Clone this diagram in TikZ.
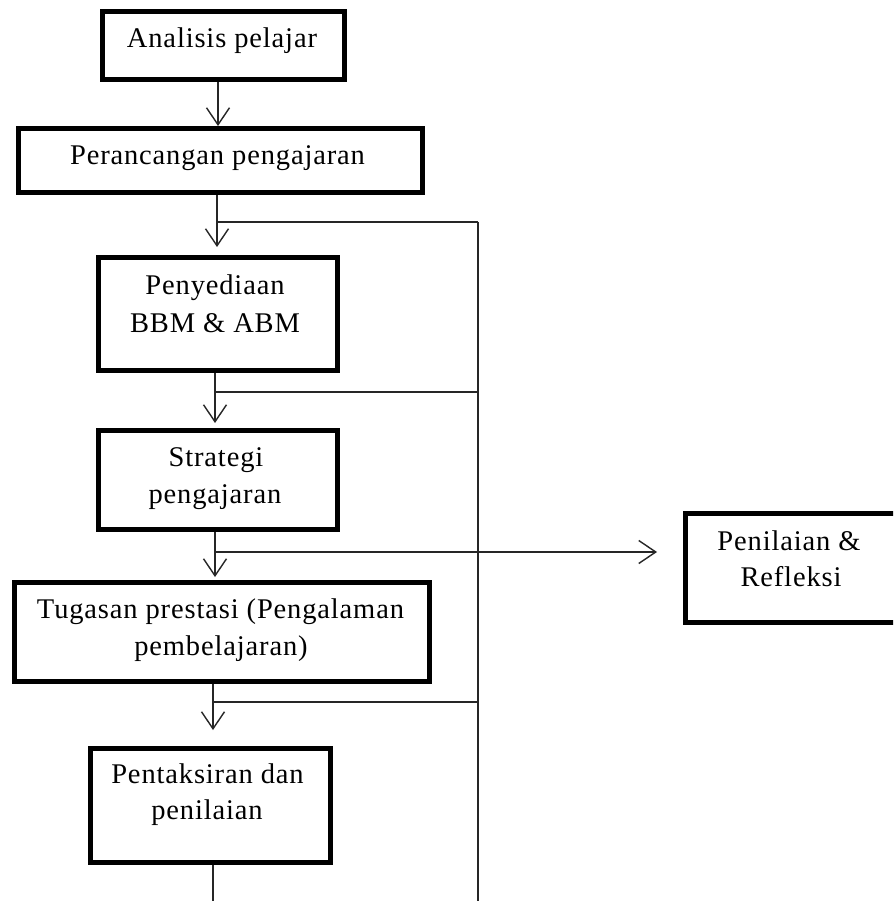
\documentclass[tikz,border=0pt]{standalone}
\usepackage{fontspec}
\setmainfont[LetterSpace=3.0]{Liberation Serif}
\usetikzlibrary{arrows.meta}
\begin{document}
\begin{tikzpicture}[x=1pt,y=-1pt,
  box/.style={draw=black, line width=5pt, rectangle, inner sep=0pt, fill=white},
  txt/.style={anchor=base, inner sep=0pt, font=\fontsize{28.5}{37}\selectfont},
  conn/.style={draw=black!85, line width=1.4pt},
  arr/.style={conn, -{Straight Barb[length=17pt,width=23pt]}}]
\useasboundingbox[fill=white] (0,0) rectangle (893,901);
\begin{scope}
\clip (0,0) rectangle (893,901);
% boxes
\node[box, minimum width=242pt, minimum height=68pt]  (b1) at (223.5,45.5) {};
\node[box, minimum width=404pt, minimum height=64pt]  (b2) at (220.5,160.5) {};
\node[box, minimum width=239pt, minimum height=113pt] (b3) at (218,314) {};
\node[box, minimum width=239pt, minimum height=99pt]  (b4) at (218,480) {};
\node[box, minimum width=415pt, minimum height=99pt]  (b5) at (222,632) {};
\node[box, minimum width=260pt, minimum height=109pt] (b6) at (815.5,568) {};
\node[box, minimum width=240pt, minimum height=114pt] (b7) at (210.5,805.5) {};
% texts
\node[txt] (t1)  at (222,48)    {Analisis pelajar};
\node[txt] (t2)  at (217.5,165) {Perancangan pengajaran};
\node[txt] (t3a) at (215,294)   {Penyediaan};
\node[txt] (t3b) at (215,332)   {BBM \& ABM};
\node[txt] (t4a) at (216,466)   {Strategi};
\node[txt] (t4b) at (215,503)   {pengajaran};
\node[txt] (t5a) at (220.5,618) {Tugasan prestasi (Pengalaman};
\node[txt] (t5b) at (221,655)   {pembelajaran)};
\node[txt] (t6a) at (789,550)   {Penilaian \&};
\node[txt] (t6b) at (791,586)   {Refleksi};
\node[txt] (t7a) at (207.5,783) {Pentaksiran dan};
\node[txt] (t7b) at (207,819)   {penilaian};
% junction coordinates
\coordinate (j1) at (217,222);
\coordinate (j2) at (215,392);
\coordinate (j3) at (215,552);
\coordinate (j4) at (213,702);
\coordinate (rt) at (478,222);
\coordinate (rb) at (478,905);
\coordinate (lb) at (213,905);
% main flow arrows
\draw[arr] (b1.south -| 218,0) -- (b2.north -| 218,0);
\draw[arr, shorten >=8pt] (b2.south -| j1) -- (b3.north -| j1);
\draw[arr, shorten >=5pt] (b3.south -| j2) -- (b4.north -| j2);
\draw[arr, shorten >=3pt] (b4.south -| j3) -- (b5.north -| j3);
\draw[arr, shorten >=16pt] (b5.south -| j4) -- (b7.north -| j4);
\draw[conn] (b7.south -| lb) -- (lb);
% feedback loop
\draw[conn] (rt) -- (rb);
\draw[conn] (j1) -- (rt);
\draw[conn] (j2) -- (j2 -| rt);
\draw[conn] (j4) -- (j4 -| rt);
\draw[arr, shorten >=26pt] (j3) -- (b6.west |- j3);
\end{scope}
\end{tikzpicture}
\end{document}
